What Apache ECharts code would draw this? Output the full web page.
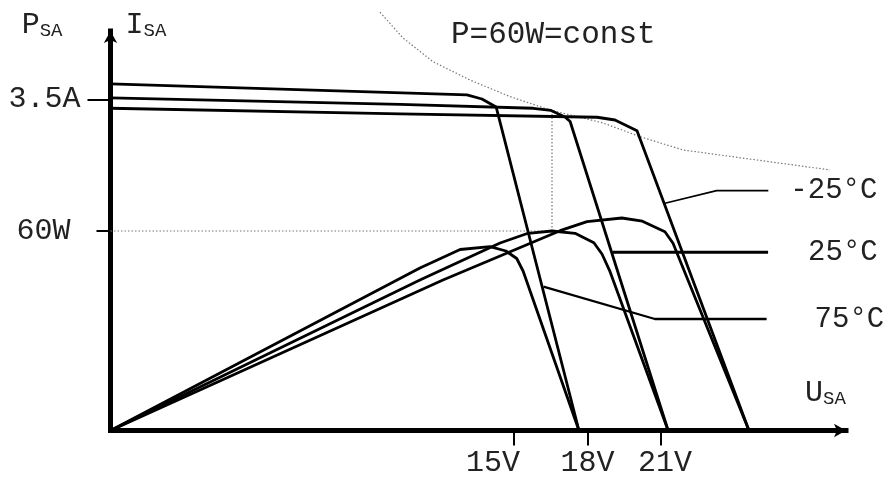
<!DOCTYPE html>
<html><head><meta charset="utf-8">
<script src="https://cdn.jsdelivr.net/npm/echarts@6/dist/echarts.min.js"></script>
<style>html,body{margin:0;padding:0;background:#fff}#c{width:885px;height:477px}</style>
</head><body><div id="c"></div><script>
const FONT = "'Liberation Mono', 'DejaVu Sans Mono', monospace";
const TXT = '#222';
const temps = ['-25°C', '25°C', '75°C'];
const xTicks = [15, 18, 21];
const xTickLabels = ['15V', '18V', '21V'];
const currTicks = [3.5];
const currTickLabels = ['3.5A'];
const powTicks = [60];
const powTickLabels = ['60W'];
const titleText = 'P=60W=const';

// I-V curves [U (V), I (A)]
const ivM25 = [[-1.47,3.407],[10.35,3.347],[18.39,3.312],[19.12,3.283],[20.02,3.170],[24.59,0]];
const iv25  = [[-1.47,3.516],[10.35,3.449],[15.78,3.407],[16.51,3.384],[17.08,3.315],[17.29,3.267],[21.29,0]];
const iv75  = [[-1.47,3.664],[13.08,3.548],[13.69,3.505],[14.27,3.421],[17.65,0]];

// P-V curves [U (V), P (W)]
const pvM25 = [[-1.47,0],[12.10,45.26],[16.88,60.09],[17.98,62.80],[19.40,63.91],[20.24,62.95],[21.16,59.79],[21.49,56.30],[24.59,0]];
const pv25  = [[-1.47,0],[11.16,45.26],[14.43,56.39],[15.57,59.31],[16.55,60],[17.49,59.31],[18.26,56.48],[18.59,53.08],[18.92,47.76],[21.29,0]];
const pv75  = [[-1.47,0],[11.16,48.87],[12.80,54.44],[14.02,55.28],[14.67,53.98],[15.11,51.73],[15.37,47.97],[17.65,0]];

// constant power hyperbola in I-U plane
const constP = [[9.53,4.422],[10.47,4.150],[11.69,3.900],[13.20,3.706],[14.84,3.530],[16.47,3.389],[18.63,3.252],[20.14,3.107],[21.90,2.966],[27.90,2.755]];
// 60 W guide
const guideP = [[-1.47,60],[16.55,60]];
const guideI = [[16.55,2.110],[16.55,3.368]];
// leader lines to temperature labels
const leadM25 = [[21.16,2.402],[23.27,2.536],[25.38,2.536]];
const lead25  = [[19.03,1.884],[25.37,1.884]];
const lead75  = [[16.20,1.521],[20.75,1.179],[25.31,1.179]];

const xMin = -1.47, xMax = 28.55, iMax = 4.224, pMax = 120.15;

const big = {fontFamily: FONT, fontSize: 30, color: TXT};
const sub = {fontFamily: FONT, fontSize: 19, color: TXT, verticalAlign: 'bottom'};

function curve(data, yIdx, w) {
  return {type: 'line', data, yAxisIndex: yIdx, showSymbol: false, symbol: 'none',
    lineStyle: {color: '#000', width: w || 2.8, join: 'round'}, z: 3};
}
function dotted(data, yIdx) {
  return {type: 'line', data, yAxisIndex: yIdx, showSymbol: false, symbol: 'none', clip: false,
    lineStyle: {color: '#777', width: 1.2, type: [1.5, 2]}, z: 2};
}
function leader(data, w, label, dist) {
  return {type: 'line', data, yAxisIndex: 0, showSymbol: false, symbol: 'none',
    lineStyle: {color: '#000', width: w}, z: 3,
    endLabel: {show: true, formatter: label, distance: dist, fontFamily: FONT, fontSize: 29, color: TXT}};
}

const chart = echarts.init(document.getElementById('c'));
chart.setOption({
  animation: false,
  backgroundColor: '#fff',
  title: {text: titleText, left: 446, top: 14, textStyle: {fontFamily: FONT, fontSize: 31, fontWeight: 'normal', color: TXT}},
  grid: {left: 110.5, right: 39, top: 31, bottom: 46.5, outerBoundsMode: 'none'},
  xAxis: {
    type: 'value', min: xMin, max: xMax,
    axisLine: {show: true, onZero: false, symbol: ['none', 'arrow'], symbolSize: [10, 12], lineStyle: {color: '#000', width: 5, cap: 'square'}},
    axisTick: {show: true, customValues: xTicks, length: 15, lineStyle: {color: '#000', width: 2}},
    axisLabel: {show: true, customValues: xTicks, margin: 18,
      formatter: v => { const i = xTicks.indexOf(v); return '{t' + i + '|' + xTickLabels[i] + '}'; },
      rich: {t0: Object.assign({padding: [0, 42, 0, 0]}, big), t1: Object.assign({}, big), t2: Object.assign({padding: [0, 0, 0, 8]}, big)}},
    splitLine: {show: false},
    name: '{m|U}{s|SA}', nameLocation: 'end', nameGap: -41,
    nameTextStyle: {align: 'left', verticalAlign: 'bottom', padding: [0, 0, 22, 0], rich: {m: big, s: sub}}
  },
  yAxis: [{
    type: 'value', min: 0, max: iMax, position: 'left',
    axisLine: {show: true, onZero: false, symbol: ['none', 'arrow'], symbolSize: [10, 12], lineStyle: {color: '#000', width: 5, cap: 'square'}},
    axisTick: {show: true, customValues: currTicks, length: 23, lineStyle: {color: '#000', width: 2}},
    axisLabel: {show: true, customValues: currTicks, margin: 30, formatter: v => currTickLabels[currTicks.indexOf(v)], fontFamily: FONT, fontSize: 30, color: TXT},
    splitLine: {show: false},
    name: '{m|I}{s|SA}', nameLocation: 'end', nameGap: 6,
    nameTextStyle: {align: 'left', verticalAlign: 'middle', padding: [0, 0, 0, 15], rich: {m: big, s: sub}}
  }, {
    type: 'value', min: 0, max: pMax, position: 'left',
    axisLine: {show: false, onZero: false},
    axisTick: {show: true, customValues: powTicks, length: 14, lineStyle: {color: '#000', width: 2}},
    axisLabel: {show: true, customValues: powTicks, margin: 40, formatter: v => powTickLabels[powTicks.indexOf(v)], fontFamily: FONT, fontSize: 30, color: TXT},
    splitLine: {show: false},
    name: '{m|P}{s|SA}', nameLocation: 'end', nameGap: 6,
    nameTextStyle: {align: 'right', verticalAlign: 'middle', padding: [0, 48, 0, 0], rich: {m: big, s: sub}}
  }],
  series: [
    dotted(constP, 0), dotted(guideP, 1), dotted(guideI, 0),
    curve(ivM25, 0), curve(iv25, 0), curve(iv75, 0),
    curve(pvM25, 1), curve(pv25, 1), curve(pv75, 1),
    leader(leadM25, 1.6, temps[0], 22),
    leader(lead25, 3, temps[1], 40),
    leader(lead75, 2.3, temps[2], 48)
  ]
});
</script></body></html>
